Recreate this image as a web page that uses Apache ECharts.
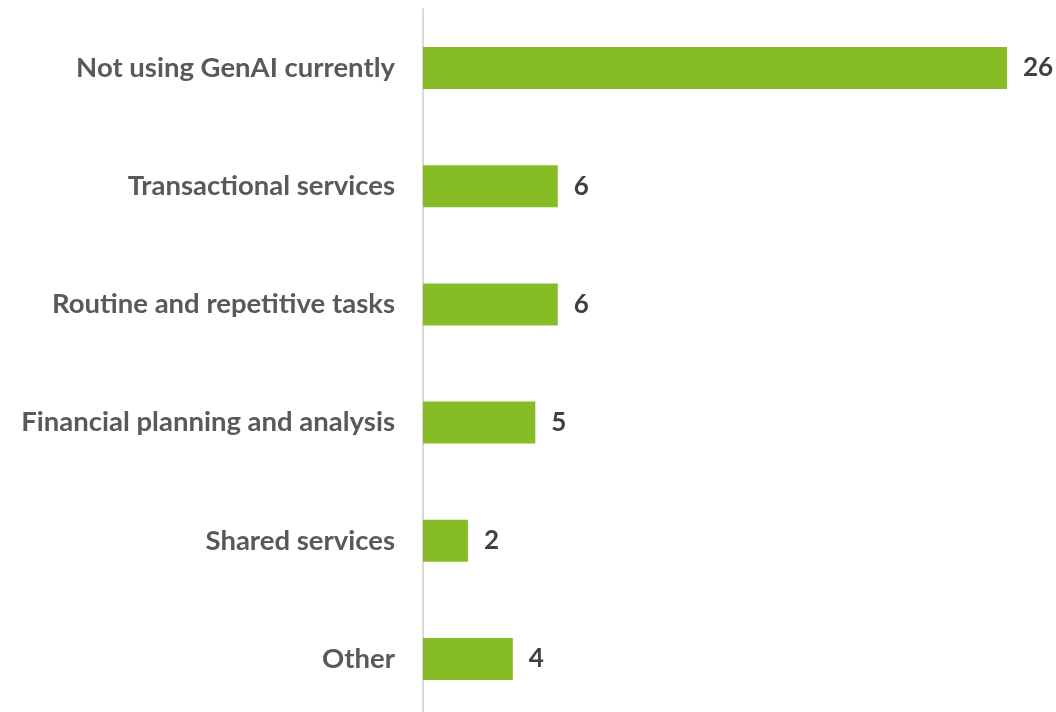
<!DOCTYPE html>
<html>
<head>
<meta charset="utf-8">
<script src="https://cdn.jsdelivr.net/npm/echarts@6/dist/echarts.min.js"></script>
<style>
  html, body { margin: 0; padding: 0; background: #fff; }
  #chart { width: 1056px; height: 712px; }
</style>
</head>
<body>
<div id="chart"></div>
<script>
// categories top to bottom, as in the picture
const categories = [
  "Not using GenAI currently",
  "Transactional services",
  "Routine and repetitive tasks",
  "Financial planning and analysis",
  "Shared services",
  "Other"
];
const counts = [26, 6, 6, 5, 2, 4];

const myChart = echarts.init(document.getElementById("chart"));
const option = {
  animation: false,
  grid: {
    left: 423,
    right: 49,
    top: 9,
    height: 709,
    outerBoundsMode: "none"
  },
  xAxis: {
    type: "value",
    min: 0,
    max: 26,
    show: false
  },
  yAxis: {
    type: "category",
    inverse: true,
    data: categories,
    axisTick: { show: false },
    axisLine: {
      lineStyle: { color: "#d9d9d9", width: 2 }
    },
    axisLabel: {
      margin: 28,
      color: "#595959",
      fontFamily: "Lato",
      fontWeight: "bold",
      fontSize: 27.5
    }
  },
  series: [
    {
      type: "bar",
      data: counts,
      barWidth: 42,
      itemStyle: { color: "#86bc25" },
      label: {
        show: true,
        position: "right",
        distance: 16,
        color: "#404040",
        fontFamily: "Lato",
        fontWeight: "bold",
        fontSize: 26
      }
    }
  ]
};
myChart.setOption(option);
</script>
</body>
</html>
